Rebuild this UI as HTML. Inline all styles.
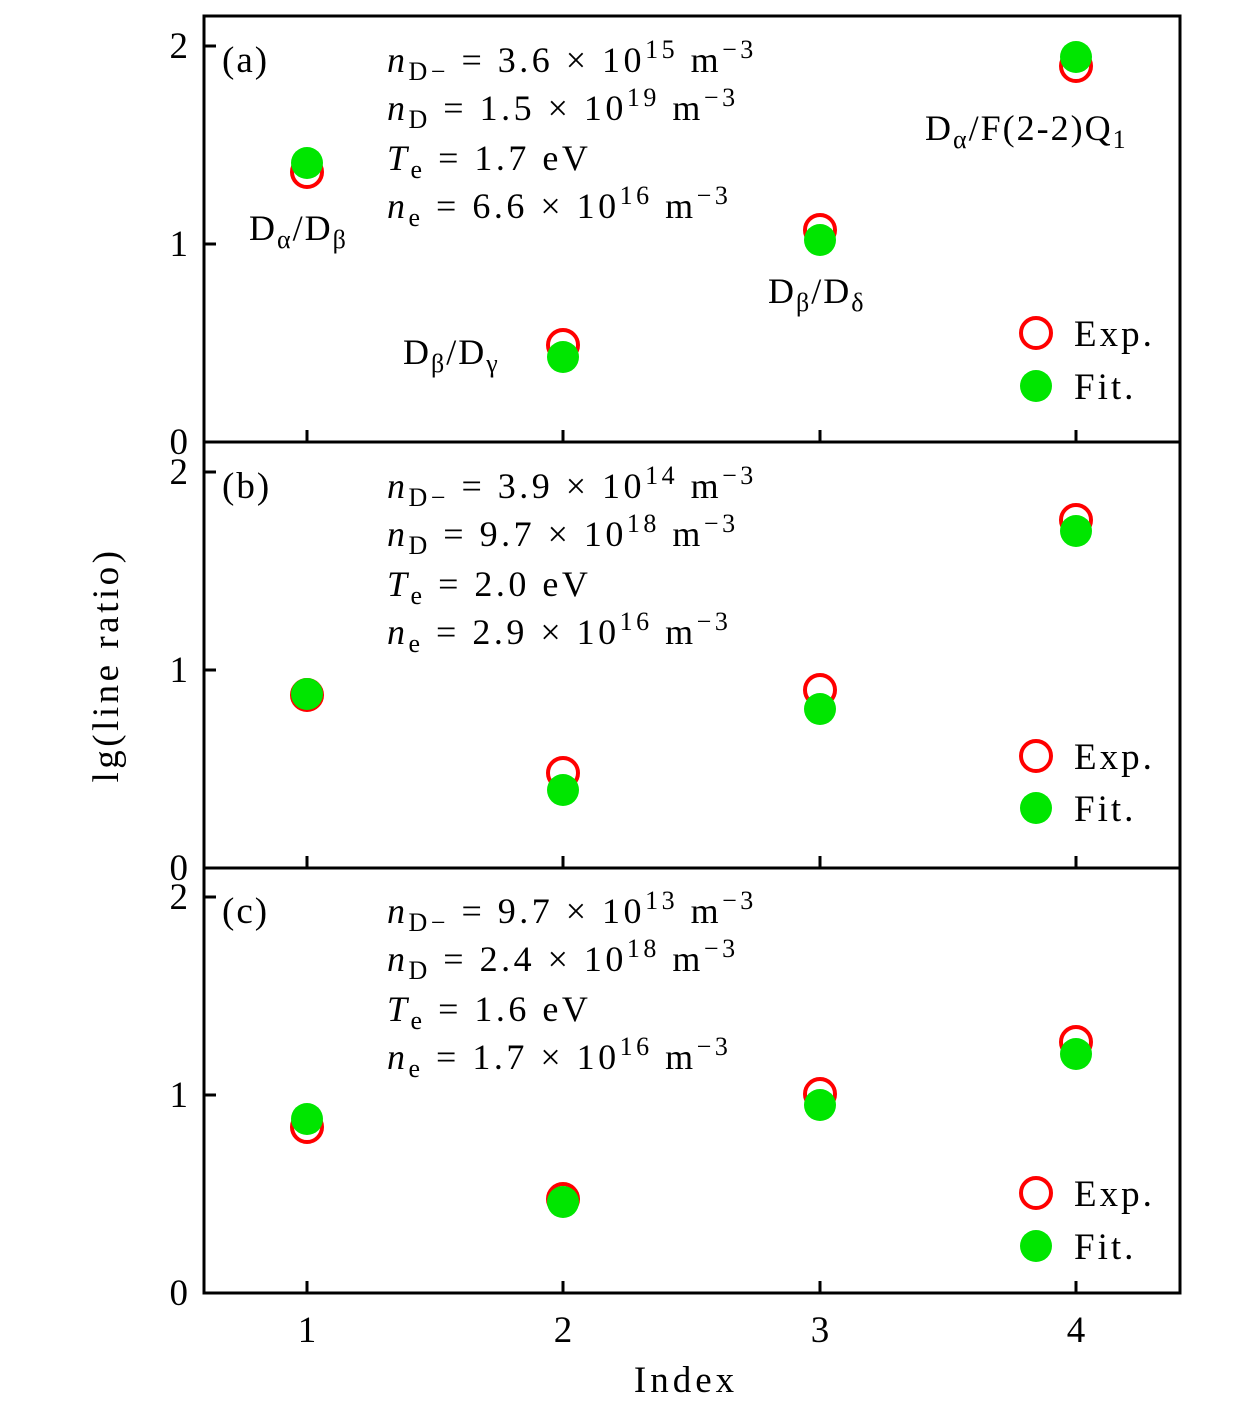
<!DOCTYPE html>
<html><head><meta charset="utf-8"><style>
html,body{margin:0;padding:0;background:#fff}
svg{display:block}
text{font-family:"Liberation Serif","DejaVu Serif",serif;fill:#000}
.p{font-size:36px;letter-spacing:3.5px}
</style></head><body>
<svg width="1260" height="1417" viewBox="0 0 1260 1417" xmlns="http://www.w3.org/2000/svg">
<g stroke="#000" stroke-width="3" fill="none">
<rect x="204" y="16" width="976" height="1277"/>
<line x1="204" y1="442" x2="1180" y2="442"/>
<line x1="204" y1="868" x2="1180" y2="868"/>
<path d="M307,442v-12M563,442v-12M820,442v-12M1076,442v-12M307,868v-12M563,868v-12M820,868v-12M1076,868v-12M307,1293v-12M563,1293v-12M820,1293v-12M1076,1293v-12"/>
<path d="M204,46h12M204,244h12M204,472h12M204,670h12M204,897h12M204,1095h12"/>
</g>
<g font-size="37" text-anchor="end">
<text x="188" y="58">2</text><text x="188" y="256">1</text><text x="188" y="454">0</text>
<text x="188" y="484">2</text><text x="188" y="682">1</text><text x="188" y="880">0</text>
<text x="188" y="909">2</text><text x="188" y="1107">1</text><text x="188" y="1305">0</text>
</g>
<g font-size="37" text-anchor="middle">
<text x="307" y="1342">1</text><text x="563" y="1342">2</text><text x="820" y="1342">3</text><text x="1076" y="1342">4</text>
<text x="686" y="1392" letter-spacing="4">Index</text>
<text transform="translate(118,665) rotate(-90)" letter-spacing="3.5">lg(line ratio)</text>
</g>
<g font-size="37" letter-spacing="2">
<text x="222" y="72">(a)</text><text x="222" y="498">(b)</text><text x="222" y="923">(c)</text>
</g>
<g class="p">
<text x="387" y="72"><tspan font-style="italic">n</tspan><tspan font-size="26" dy="8">D−</tspan><tspan dy="-8"> = 3.6 × 10</tspan><tspan font-size="26" dy="-14">15</tspan><tspan dy="14">  m</tspan><tspan font-size="26" dy="-14">−3</tspan></text>
<text x="387" y="120"><tspan font-style="italic">n</tspan><tspan font-size="26" dy="8">D</tspan><tspan dy="-8"> = 1.5 × 10</tspan><tspan font-size="26" dy="-14">19</tspan><tspan dy="14">  m</tspan><tspan font-size="26" dy="-14">−3</tspan></text>
<text x="387" y="170"><tspan font-style="italic">T</tspan><tspan font-size="26" dy="8">e</tspan><tspan dy="-8"> = 1.7  eV</tspan></text>
<text x="387" y="218"><tspan font-style="italic">n</tspan><tspan font-size="26" dy="8">e</tspan><tspan dy="-8"> = 6.6 × 10</tspan><tspan font-size="26" dy="-14">16</tspan><tspan dy="14">  m</tspan><tspan font-size="26" dy="-14">−3</tspan></text>
</g>
<g class="p">
<text x="387" y="498"><tspan font-style="italic">n</tspan><tspan font-size="26" dy="8">D−</tspan><tspan dy="-8"> = 3.9 × 10</tspan><tspan font-size="26" dy="-14">14</tspan><tspan dy="14">  m</tspan><tspan font-size="26" dy="-14">−3</tspan></text>
<text x="387" y="546"><tspan font-style="italic">n</tspan><tspan font-size="26" dy="8">D</tspan><tspan dy="-8"> = 9.7 × 10</tspan><tspan font-size="26" dy="-14">18</tspan><tspan dy="14">  m</tspan><tspan font-size="26" dy="-14">−3</tspan></text>
<text x="387" y="596"><tspan font-style="italic">T</tspan><tspan font-size="26" dy="8">e</tspan><tspan dy="-8"> = 2.0  eV</tspan></text>
<text x="387" y="644"><tspan font-style="italic">n</tspan><tspan font-size="26" dy="8">e</tspan><tspan dy="-8"> = 2.9 × 10</tspan><tspan font-size="26" dy="-14">16</tspan><tspan dy="14">  m</tspan><tspan font-size="26" dy="-14">−3</tspan></text>
</g>
<g class="p">
<text x="387" y="923"><tspan font-style="italic">n</tspan><tspan font-size="26" dy="8">D−</tspan><tspan dy="-8"> = 9.7 × 10</tspan><tspan font-size="26" dy="-14">13</tspan><tspan dy="14">  m</tspan><tspan font-size="26" dy="-14">−3</tspan></text>
<text x="387" y="971"><tspan font-style="italic">n</tspan><tspan font-size="26" dy="8">D</tspan><tspan dy="-8"> = 2.4 × 10</tspan><tspan font-size="26" dy="-14">18</tspan><tspan dy="14">  m</tspan><tspan font-size="26" dy="-14">−3</tspan></text>
<text x="387" y="1021"><tspan font-style="italic">T</tspan><tspan font-size="26" dy="8">e</tspan><tspan dy="-8"> = 1.6  eV</tspan></text>
<text x="387" y="1069"><tspan font-style="italic">n</tspan><tspan font-size="26" dy="8">e</tspan><tspan dy="-8"> = 1.7 × 10</tspan><tspan font-size="26" dy="-14">16</tspan><tspan dy="14">  m</tspan><tspan font-size="26" dy="-14">−3</tspan></text>
</g>
<g font-size="36" letter-spacing="2">
<text x="249" y="240">D<tspan font-size="26" dy="8">α</tspan><tspan dy="-8">/D</tspan><tspan font-size="26" dy="8">β</tspan></text>
<text x="403" y="364">D<tspan font-size="26" dy="8">β</tspan><tspan dy="-8">/D</tspan><tspan font-size="26" dy="8">γ</tspan></text>
<text x="768" y="303">D<tspan font-size="26" dy="8">β</tspan><tspan dy="-8">/D</tspan><tspan font-size="26" dy="8">δ</tspan></text>
<text x="925" y="140">D<tspan font-size="26" dy="8">α</tspan><tspan dy="-8">/F(2-2)Q</tspan><tspan font-size="26" dy="8">1</tspan></text>
</g>
<g fill="none" stroke="#f00" stroke-width="4">
<circle cx="307" cy="172" r="15"/><circle cx="563" cy="345" r="15"/><circle cx="820" cy="230" r="15"/><circle cx="1076" cy="66" r="15"/>
<circle cx="307" cy="695" r="15"/><circle cx="563" cy="773" r="15"/><circle cx="820" cy="690" r="15"/><circle cx="1076" cy="520" r="15"/>
<circle cx="307" cy="1127" r="15"/><circle cx="563" cy="1199" r="15"/><circle cx="820" cy="1094" r="15"/><circle cx="1076" cy="1042" r="15"/>
<circle cx="1036" cy="333" r="15"/><circle cx="1036" cy="756" r="15"/><circle cx="1036" cy="1193" r="15"/>
</g>
<g fill="#00e600">
<circle cx="307" cy="163" r="16"/><circle cx="563" cy="357" r="16"/><circle cx="820" cy="240" r="16"/><circle cx="1076" cy="57" r="16"/>
<circle cx="307" cy="694" r="16"/><circle cx="563" cy="790" r="16"/><circle cx="820" cy="709" r="16"/><circle cx="1076" cy="531" r="16"/>
<circle cx="307" cy="1119" r="16"/><circle cx="563" cy="1202" r="16"/><circle cx="820" cy="1105" r="16"/><circle cx="1076" cy="1054" r="16"/>
<circle cx="1036" cy="386" r="16"/><circle cx="1036" cy="808" r="16"/><circle cx="1036" cy="1246" r="16"/>
</g>
<g font-size="37" letter-spacing="3">
<text x="1074" y="346">Exp.</text><text x="1074" y="399">Fit.</text>
<text x="1074" y="769">Exp.</text><text x="1074" y="821">Fit.</text>
<text x="1074" y="1206">Exp.</text><text x="1074" y="1259">Fit.</text>
</g>
</svg>
</body></html>
